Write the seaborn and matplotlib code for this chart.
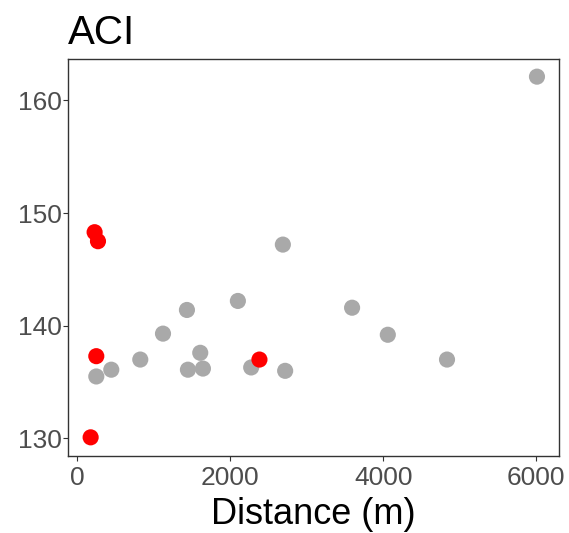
import matplotlib
matplotlib.use("Agg")
import matplotlib.pyplot as plt
import seaborn as sns
import pandas as pd

# Data
distance = [6009, 2687, 3592, 4059, 4833, 2099, 1433, 1120, 823, 444, 248,
            1446, 1607, 1642, 2273, 2717,
            226, 270, 248, 2381, 174]
aci = [162.1, 147.2, 141.6, 139.2, 137.0, 142.2, 141.4, 139.3, 137.0, 136.1, 135.5,
       136.1, 137.6, 136.2, 136.3, 136.0,
       148.3, 147.5, 137.3, 137.0, 130.1]
group = ["grey"] * 16 + ["red"] * 5
palette = {"grey": "#A9A9A9", "red": "#FF0000"}
x_ticks = [0, 2000, 4000, 6000]
y_ticks = [130, 140, 150, 160]

df = pd.DataFrame({"Distance": distance, "ACI": aci, "group": group})

sns.set_theme(style="white")
plt.rcParams["font.family"] = ["Liberation Sans", "DejaVu Sans"]

fig = plt.figure(figsize=(5.69, 5.33), dpi=100)
ax = fig.add_axes([68.3 / 569, 1 - 455.7 / 533, (559.3 - 68.3) / 569, (455.7 - 59.3) / 533])

sns.scatterplot(data=df, x="Distance", y="ACI", hue="group", palette=palette,
                s=135, linewidth=0, legend=False, ax=ax, zorder=3)

ax.set_xlim(-118, 6301)
ax.set_ylim(128.47, 163.64)
ax.set_xticks(x_ticks)
ax.set_yticks(y_ticks)

for sp in ax.spines.values():
    sp.set_visible(True)
    sp.set_color("#333333")
    sp.set_linewidth(1.0)

ax.tick_params(axis="both", which="major", length=3.3, width=0.8, color="#333333",
               labelsize=19, labelcolor="#4D4D4D", bottom=True, left=True)
ax.tick_params(axis="x", pad=4)
ax.tick_params(axis="y", pad=1.5)

ax.set_xlabel("Distance (m)", fontsize=26, color="black", labelpad=5)
ax.set_ylabel("")
ax.set_title("ACI", loc="left", fontsize=29, color="black", pad=11)
ax.grid(False)

fig.savefig("out.png", dpi=100)
